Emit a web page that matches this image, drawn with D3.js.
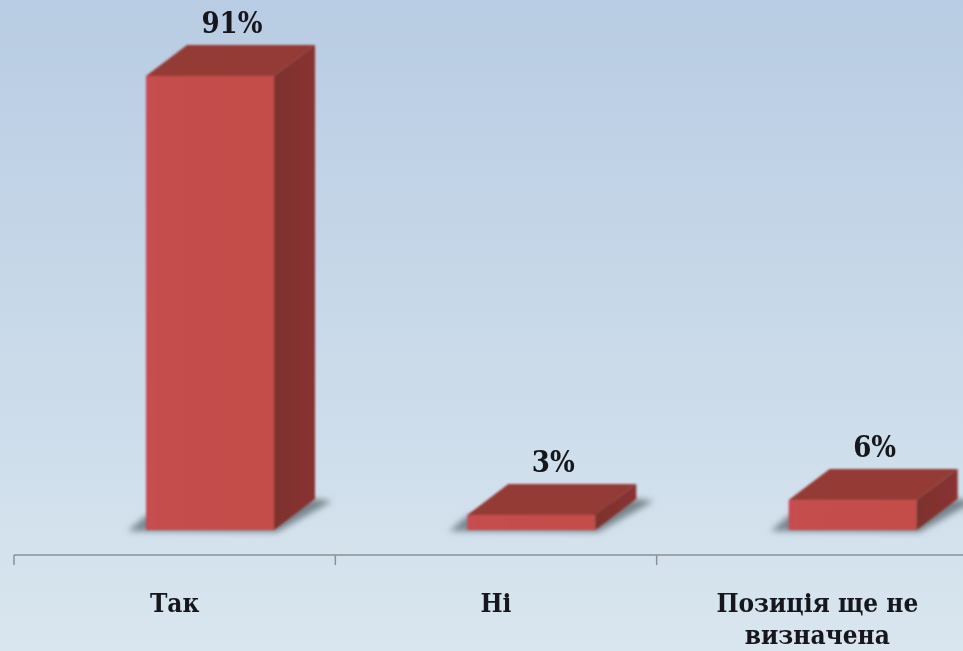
<!DOCTYPE html>
<html>
<head>
<meta charset="utf-8">
<script src="https://cdn.jsdelivr.net/npm/d3@7"></script>
<style>
html, body { margin: 0; padding: 0; overflow: hidden; }
text { font-family: "DejaVu Serif Condensed", "DejaVu Serif", serif; font-weight: bold; fill: #14171b; }
</style>
</head>
<body>
<div id="chart"></div>
<script>
var categories = ["Так", "Ні", "Позиція ще не визначена"];
var values = [91, 3, 6];
var valueLabels = ["91%", "3%", "6%"];
var categoryLines = [["Так"], ["Ні"], ["Позиція ще не", "визначена"]];

var width = 963, height = 651;
var axisY = 555, baseY = 530;
var barW = 128, depthX = 41, depthY = 31;

var svg = d3.select("#chart").append("svg")
    .attr("width", width)
    .attr("height", height)
    .style("display", "block");

var defs = svg.append("defs");
var bg = defs.append("linearGradient").attr("id", "bg")
    .attr("x1", 0).attr("y1", 0).attr("x2", 0).attr("y2", 1);
bg.append("stop").attr("offset", "0%").attr("stop-color", "#b8cce3");
bg.append("stop").attr("offset", "100%").attr("stop-color", "#d9e6ef");

var front = defs.append("linearGradient").attr("id", "front")
    .attr("x1", 0).attr("y1", 0).attr("x2", 1).attr("y2", 0);
front.append("stop").attr("offset", "0%").attr("stop-color", "#c84c52");
front.append("stop").attr("offset", "12%").attr("stop-color", "#c54e4c");
front.append("stop").attr("offset", "100%").attr("stop-color", "#c44e4a");

var side = defs.append("linearGradient").attr("id", "side")
    .attr("x1", 0).attr("y1", 0).attr("x2", 1).attr("y2", 0);
side.append("stop").attr("offset", "0%").attr("stop-color", "#7c322e");
side.append("stop").attr("offset", "100%").attr("stop-color", "#8a3331");

defs.append("filter").attr("id", "soft")
    .append("feGaussianBlur").attr("stdDeviation", 0.8);
defs.append("filter").attr("id", "textSoft")
    .attr("x", "-10%").attr("y", "-10%").attr("width", "120%").attr("height", "120%")
    .append("feGaussianBlur").attr("stdDeviation", 0.45);
defs.append("filter").attr("id", "shadowBlur")
    .attr("x", "-20%").attr("y", "-20%").attr("width", "140%").attr("height", "140%")
    .append("feGaussianBlur").attr("stdDeviation", 3);

svg.append("rect")
    .attr("width", width)
    .attr("height", height)
    .attr("fill", "url(#bg)");

var x = d3.scaleBand().domain(categories).range([14, 978]);
var y = d3.scaleLinear().domain([0, 91]).range([baseY, 76]);

// offset of the bar from the left edge of its band
var barOffset = 132;

function pts(a) { return a.map(function(p) { return p.join(","); }).join(" "); }

var data = categories.map(function(c, i) {
    return { cat: c, value: values[i], label: valueLabels[i], lines: categoryLines[i] };
});

// floor shadow
var shadows = svg.append("g").attr("filter", "url(#shadowBlur)");
shadows.selectAll("polygon")
    .data(data)
  .enter().append("polygon")
    .attr("fill", "#77848b")
    .attr("points", function(d) {
        var l = x(d.cat) + barOffset;
        return pts([[l - 18, baseY + 1], [l, baseY - 14], [l + barW + depthX, baseY - depthY],
                    [l + barW + depthX + 17, baseY - depthY + 2], [l + barW + 3, baseY + 2]]);
    });

var bars = svg.append("g").attr("filter", "url(#soft)")
    .selectAll(".bar")
    .data(data)
  .enter().append("g")
    .attr("class", "bar");

bars.append("rect")
    .attr("x", function(d) { return x(d.cat) + barOffset; })
    .attr("y", function(d) { return y(d.value); })
    .attr("width", barW)
    .attr("height", function(d) { return baseY - y(d.value); })
    .attr("fill", "url(#front)");

// top face
bars.append("polygon")
    .attr("fill", "#943a35")
    .attr("points", function(d) {
        var l = x(d.cat) + barOffset, t = y(d.value);
        return pts([[l, t], [l + depthX, t - depthY], [l + barW + depthX, t - depthY], [l + barW, t]]);
    });

// right face
bars.append("polygon")
    .attr("fill", "url(#side)")
    .attr("points", function(d) {
        var r = x(d.cat) + barOffset + barW, t = y(d.value);
        return pts([[r, t], [r + depthX, t - depthY], [r + depthX, baseY - depthY], [r, baseY]]);
    });

// value labels
svg.append("g").attr("filter", "url(#textSoft)").selectAll("text")
    .data(data)
  .enter().append("text")
    .attr("x", function(d) { return x(d.cat) + barOffset + barW / 2 + 22; })
    .attr("y", function(d) { return y(d.value) - depthY - 12; })
    .attr("text-anchor", "middle")
    .attr("font-size", 29)
    .text(function(d) { return d.label; });

// axis
var axis = svg.append("g").attr("transform", "translate(0," + axisY + ")")
    .call(d3.axisBottom(x).tickSize(0).tickFormat(""));
axis.select(".domain").remove();
axis.selectAll(".tick").remove();
axis.append("line")
    .attr("x1", x.range()[0]).attr("x2", x.range()[1])
    .attr("stroke", "#8d9193").attr("stroke-width", 1.5);
axis.selectAll(".sep")
    .data(categories)
  .enter().append("line")
    .attr("class", "sep")
    .attr("x1", function(d) { return x(d); })
    .attr("x2", function(d) { return x(d); })
    .attr("y1", 0).attr("y2", 10)
    .attr("stroke", "#8d9193").attr("stroke-width", 1.5);

// category labels
var catLabels = svg.append("g").attr("filter", "url(#textSoft)").selectAll("text")
    .data(data)
  .enter().append("text")
    .attr("text-anchor", "middle")
    .attr("font-size", 26);
catLabels.selectAll("tspan")
    .data(function(d) { return d.lines.map(function(t) { return { t: t, cat: d.cat }; }); })
  .enter().append("tspan")
    .attr("x", function(d) { return x(d.cat) + x.bandwidth() / 2; })
    .attr("y", function(d, i) { return 612 + i * 32; })
    .text(function(d) { return d.t; });
</script>
</body>
</html>
